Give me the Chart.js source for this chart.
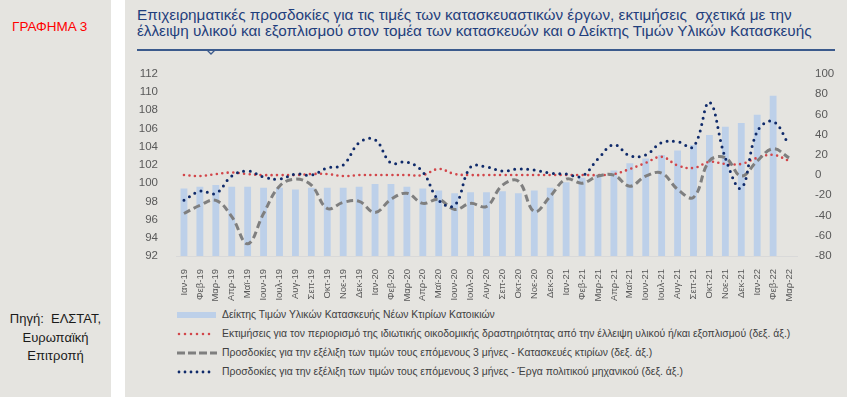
<!DOCTYPE html>
<html>
<head>
<meta charset="utf-8">
<script src="https://cdn.jsdelivr.net/npm/chart.js@4"></script>
<style>
  body { margin: 0; width: 847px; height: 397px; background: #e5e4e0; position: relative; overflow: hidden;
         font-family: "Liberation Sans", Arial, sans-serif; }
  .stripe { position: absolute; left: 111px; top: 0; width: 14px; height: 397px; background: #ffffff; }
  .tag { position: absolute; left: 12px; top: 19px; font-size: 13.5px; color: #ff0000; }
  .source { position: absolute; left: 0; width: 111px; top: 310px; font-size: 13px; line-height: 18.5px; color: #1a1a1a; text-align: center; }
  .title { position: absolute; left: 137px; top: 7px; font-size: 15.3px; line-height: 16px; color: #1f3e7c; white-space: nowrap; }
  .rule { position: absolute; left: 137px; top: 49px; width: 698px; height: 1.5px; background: #3b5a8c; }
  .notch { position: absolute; left: 206px; top: 50px; }
  #wrap { position: absolute; left: 125px; top: 57px; width: 722px; height: 245px; }
  .legend { position: absolute; left: 177px; top: 305px; font-size: 10.4px; color: #404040; }
  .legend div { height: 19px; display: flex; align-items: center; white-space: nowrap; }
  .legend svg { margin-right: 5px; flex: none; }
</style>
</head>
<body>
<div class="stripe"></div>
<div class="tag">ΓΡΑΦΗΜΑ 3</div>
<div class="source">Πηγή:&nbsp; ΕΛΣΤΑΤ,<br>Ευρωπαϊκή<br>Επιτροπή</div>
<div class="title">Επιχειρηματικές προσδοκίες για τις τιμές των κατασκευαστικών έργων, εκτιμήσεις&nbsp; σχετικά με την<br>έλλειψη υλικού και εξοπλισμού στον τομέα των κατασκευών και ο Δείκτης Τιμών Υλικών Κατασκευής</div>
<div class="rule"></div>
<svg class="notch" width="10" height="6"><polyline points="1,0 5,4 9,0" fill="none" stroke="#3b5a8c" stroke-width="1.3"/></svg>
<div id="wrap"><canvas id="chart"></canvas></div>
<div class="legend" id="legend"></div>
<script>
const months = ['Ιαν-19','Φεβ-19','Μαρ-19','Απρ-19','Μαϊ-19','Ιουν-19','Ιουλ-19','Αυγ-19','Σεπ-19','Οκτ-19','Νοε-19','Δεκ-19',
  'Ιαν-20','Φεβ-20','Μαρ-20','Απρ-20','Μαϊ-20','Ιουν-20','Ιουλ-20','Αυγ-20','Σεπ-20','Οκτ-20','Νοε-20','Δεκ-20',
  'Ιαν-21','Φεβ-21','Μαρ-21','Απρ-21','Μαϊ-21','Ιουν-21','Ιουλ-21','Αυγ-21','Σεπ-21','Οκτ-21','Νοε-21','Δεκ-21',
  'Ιαν-22','Φεβ-22','Μαρ-22'];

// Δείκτης Τιμών Υλικών Κατασκευής (αρ. άξονας)
const priceIndex = [99.4, 99.6, 99.8, 99.6, 99.6, 99.5, 99.5, 99.3, 99.5, 99.5, 99.5, 99.6,
  99.9, 99.9, 99.6, 99.4, 99.2, 98.9, 99.0, 99.0, 99.1, 98.9, 99.2, 99.5,
  100.1, 100.6, 100.9, 101.4, 102.2, 102.7, 103.1, 103.6, 104.2, 105.3, 106.2, 106.6,
  107.5, 109.6, null];

// δεξ. άξονας
const shortage = [0, -1, 1, 2.5, 1, 0, 0, 0, 1, 1, -1, 0,
  0, 0, 0, 0, 6, 1, 0, 0, 0, 0, 0, 0,
  0, 0, 0, 1, 6, 12, 18, 9.5, 7, 13, 11, 11,
  17, 20, 14];
const buildings = [-38, -30, -25, -41, -68, -38, -11, -4, -10, -33, -27, -26,
  -37, -24, -18, -28, -24, -34, -28, -31, -10, -6, -36, -21,
  -4, -8, -1, 0, -11, -1, 2, -14, -22, 14, 17, -1,
  14, 26, 17];
const civilWorks = [-25, -16, -18, -1, 4, -2, -4, 1, 0, 7, 10, 32,
  35, 12, 13, 3, -25, -30, 8, 8, 4, 6, 5, 2,
  1, -1, 16, 30, 19, 20, 32, 33, 28, 72, 17, -13,
  43, 53, 30];

const legendLabels = [
  'Δείκτης Τιμών Υλικών Κατασκευής Νέων Κτιρίων Κατοικιών',
  'Εκτιμήσεις για τον περιορισμό της ιδιωτικής οικοδομικής δραστηριότητας από την έλλειψη υλικού ή/και εξοπλισμού (δεξ. άξ.)',
  'Προσδοκίες για την εξέλιξη των τιμών τους επόμενους 3 μήνες - Κατασκευές κτιρίων (δεξ. άξ.)',
  'Προσδοκίες για την εξέλιξη των τιμών τους επόμενους 3 μήνες - Έργα πολιτικού μηχανικού (δεξ. άξ.)'
];

const barColor = '#bdd0e9';
const redColor = '#d2464a';
const grayColor = '#7f7f7f';
const blueColor = '#0f2a6a';
const tickColor = '#595959';

new Chart(document.getElementById('chart'), {
  type: 'bar',
  data: {
    labels: months,
    datasets: [
      { type: 'bar', label: legendLabels[0], data: priceIndex, yAxisID: 'y', backgroundColor: barColor,
        barPercentage: 0.43, categoryPercentage: 1, order: 4 },
      { type: 'line', label: legendLabels[1], data: shortage, yAxisID: 'y1', borderColor: redColor,
        borderWidth: 2.6, borderDash: [0, 5.5], borderCapStyle: 'round', pointRadius: 0, tension: 0.4, order: 3 },
      { type: 'line', label: legendLabels[2], data: buildings, yAxisID: 'y1', borderColor: grayColor,
        borderWidth: 3, borderDash: [7, 4], pointRadius: 0, tension: 0.4, order: 2 },
      { type: 'line', label: legendLabels[3], data: civilWorks, yAxisID: 'y1', borderColor: blueColor,
        borderWidth: 3, borderDash: [0, 6.5], borderCapStyle: 'round', pointRadius: 0, tension: 0.4, order: 1 }
    ]
  },
  options: {
    responsive: true,
    maintainAspectRatio: false,
    animation: false,
    layout: { padding: { top: 11, left: 0, right: 0, bottom: 0 } },
    plugins: { legend: { display: false }, tooltip: { enabled: false } },
    scales: {
      x: {
        offset: true,
        grid: { display: false },
        border: { display: true, color: '#d9d9d9' },
        ticks: { autoSkip: false, maxRotation: 90, minRotation: 90, color: tickColor, padding: 5,
                 font: { family: 'Liberation Sans', size: 9.5 } },
        afterFit: (s) => { s.height = 46; }
      },
      y: {
        position: 'left', min: 92, max: 112,
        grid: { display: false }, border: { display: false },
        ticks: { stepSize: 2, color: tickColor, padding: 10, font: { family: 'Liberation Sans', size: 11.5 } },
        afterFit: (s) => { s.width = 51; }
      },
      y1: {
        position: 'right', min: -80, max: 100,
        grid: { display: false }, border: { display: false },
        ticks: { stepSize: 20, color: tickColor, padding: 10, font: { family: 'Liberation Sans', size: 11.5 } },
        afterFit: (s) => { s.width = 50; }
      }
    }
  }
});

// legend
const markers = [
  '<svg width="40" height="8"><rect x="0" y="1" width="39" height="6" fill="' + barColor + '"/></svg>',
  '<svg width="40" height="8"><line x1="2" y1="4" x2="38" y2="4" stroke="' + redColor + '" stroke-width="2.6" stroke-linecap="round" stroke-dasharray="0 6"/></svg>',
  '<svg width="40" height="8"><line x1="0" y1="4" x2="40" y2="4" stroke="' + grayColor + '" stroke-width="3" stroke-dasharray="8 3"/></svg>',
  '<svg width="40" height="8"><line x1="2" y1="4" x2="38" y2="4" stroke="' + blueColor + '" stroke-width="2.8" stroke-linecap="round" stroke-dasharray="0 6"/></svg>'
];
document.getElementById('legend').innerHTML = legendLabels.map((t, i) => '<div>' + markers[i] + '<span>' + t + '</span></div>').join('');
</script>
</body>
</html>
